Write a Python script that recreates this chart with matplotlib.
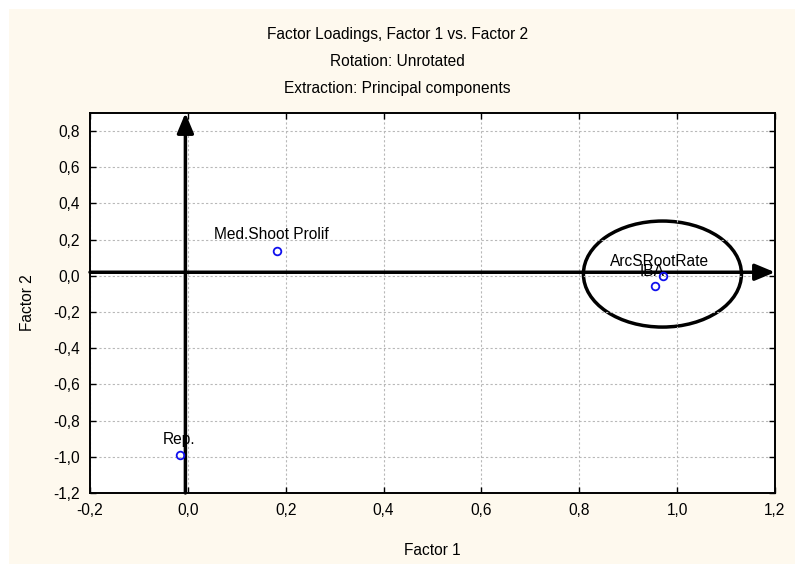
import matplotlib
matplotlib.use("Agg")
import matplotlib.pyplot as plt
from matplotlib.patches import Ellipse, Rectangle
from matplotlib.ticker import FuncFormatter, MultipleLocator

plt.rcParams['font.family'] = ['Liberation Sans', 'DejaVu Sans']

# factor loadings
labels = ["Med.Shoot Prolif", "Rep.", "IBA", "ArcSRootRate"]
factor1 = [0.182, -0.016, 0.955, 0.972]
factor2 = [0.140, -0.990, -0.055, 0.000]

titles = ["Factor Loadings, Factor 1 vs. Factor 2",
          "Rotation: Unrotated",
          "Extraction: Principal components"]

FS = 11.2

fig = plt.figure(figsize=(7.95, 5.64), dpi=100)
fig.patch.set_facecolor("white")
fig.patches.append(Rectangle((9 / 795, 0), 1, 1 - 9 / 564, transform=fig.transFigure,
                             facecolor="#FEF9EE", edgecolor="none", zorder=-10))

ax = fig.add_axes([0.1132, 0.1259, 0.8616, 0.6737])
ax.set_facecolor("white")
ax.set_xlim(-0.2, 1.2)
ax.set_ylim(-1.2, 0.9)
ax.xaxis.set_major_locator(MultipleLocator(0.2))
ax.yaxis.set_major_locator(MultipleLocator(0.2))
comma = FuncFormatter(lambda v, p: ("%.1f" % v).replace(".", ",").replace("-0,0", "0,0"))
ax.xaxis.set_major_formatter(comma)
ax.yaxis.set_major_formatter(comma)
ax.tick_params(direction="in", top=True, right=True, length=4, width=1,
               labelsize=FS, pad=7)
ax.grid(True, color="#b8b8b8", linestyle=(0, (2, 2)), linewidth=0.8)
for s in ax.spines.values():
    s.set_linewidth(1.4)

# hand-drawn axes arrows
ax.annotate("", xy=(1.2, 0.02), xytext=(-0.2, 0.02),
            arrowprops=dict(arrowstyle="-|>,head_length=1.2,head_width=0.5",
                            color="black", lw=2.5, shrinkA=0, shrinkB=0))
ax.annotate("", xy=(-0.005, 0.9), xytext=(-0.005, -1.2),
            arrowprops=dict(arrowstyle="-|>,head_length=1.2,head_width=0.5",
                            color="black", lw=2.5, shrinkA=0, shrinkB=0))

ax.plot(factor1, factor2, "o", markerfacecolor="none", markeredgecolor="#1010ee",
        markersize=5.5, markeredgewidth=1.3, zorder=5)
offsets = {"Med.Shoot Prolif": (-4, 6), "Rep.": (-1, 6), "IBA": (-2, 5), "ArcSRootRate": (-3, 5)}
for x, y, t in zip(factor1, factor2, labels):
    ax.annotate(t, (x, y), xytext=offsets[t], textcoords="offset points",
                ha="center", va="bottom", fontsize=FS)

ax.add_patch(Ellipse((0.970, 0.01), 0.323, 0.586, fill=False, edgecolor="black", lw=2.5))

for i, t in enumerate(titles):
    fig.text(0.5, 1 - (35 + 27 * i) / 564, t, ha="center", va="center", fontsize=FS)

ax.set_xlabel("Factor 1", fontsize=FS, labelpad=18)
ax.set_ylabel("Factor 2", fontsize=FS, labelpad=13)

fig.savefig("out.png", dpi=100)
